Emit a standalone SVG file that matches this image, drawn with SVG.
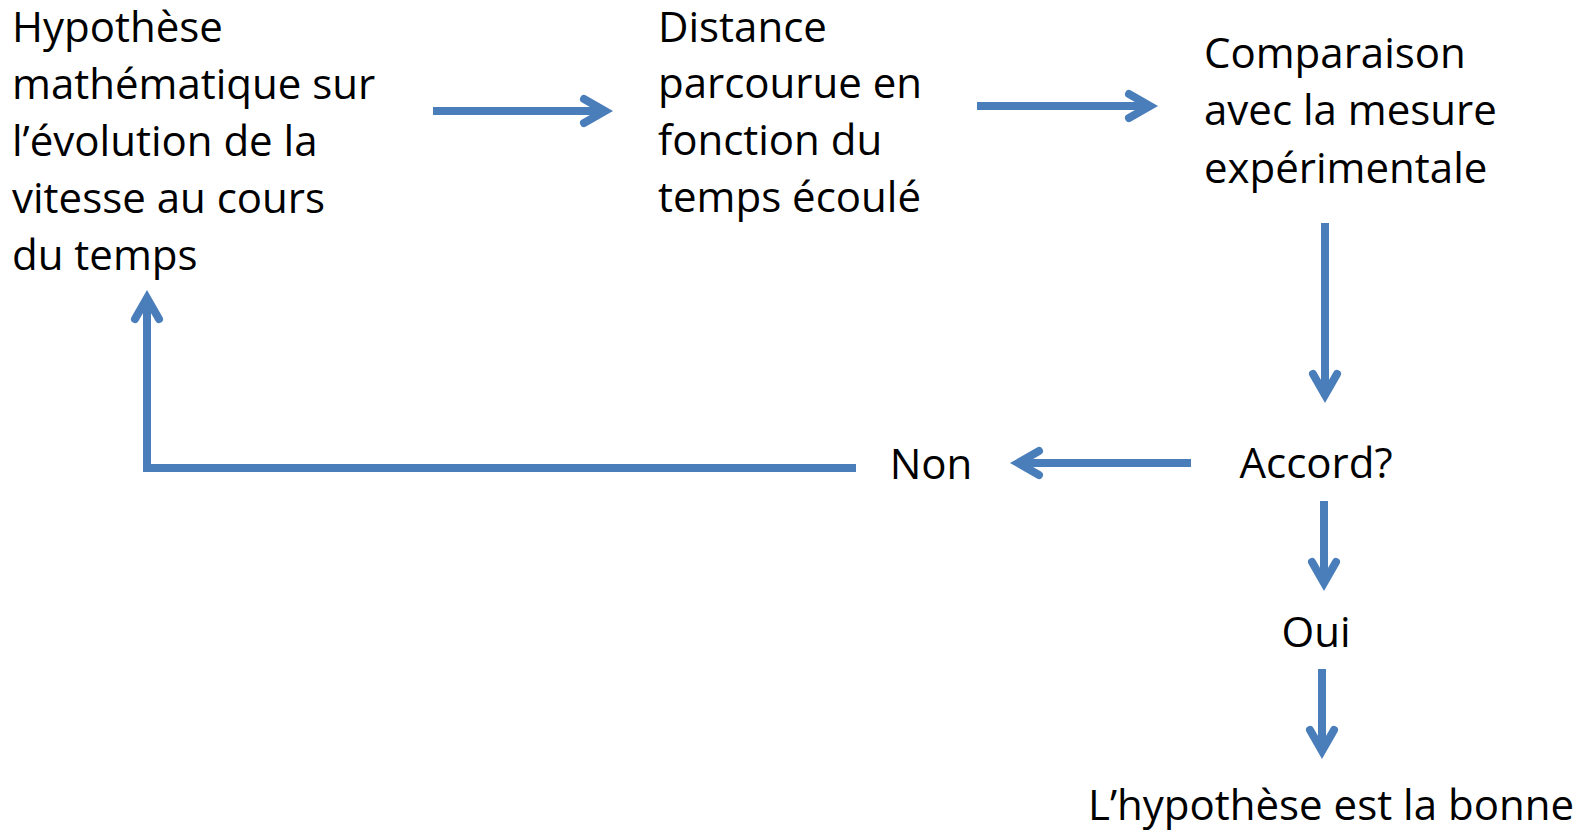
<svg xmlns="http://www.w3.org/2000/svg" width="1587" height="832" viewBox="0 0 1587 832">
  <style>
    text { font-family: "Open Sans", "Noto Sans", "Liberation Sans", sans-serif; font-size: 42px; fill: #000; }
    .c { text-anchor: middle; }
    .edge { stroke: #4A7EBB; stroke-width: 8; fill: none; stroke-linecap: butt; stroke-linejoin: miter; marker-end: url(#head); }
  </style>
  <defs>
    <marker id="head" markerUnits="userSpaceOnUse" viewBox="-30 -20 40 40" refX="0" refY="0" markerWidth="40" markerHeight="40" orient="auto" overflow="visible">
      <path d="M -21,-12 L 0,0 L -21,12" fill="none" stroke="#4A7EBB" stroke-width="8" stroke-linecap="round" stroke-linejoin="miter"/>
    </marker>
  </defs>
  <rect width="1587" height="832" fill="#fff"/>

  <g id="n-hypothese">
    <text x="12" y="42">Hypothèse</text>
    <text x="12" y="99">mathématique sur</text>
    <text x="12" y="156">l’évolution de la</text>
    <text x="12" y="213">vitesse au cours</text>
    <text x="12" y="270">du temps</text>
  </g>
  <g id="n-distance">
    <text x="658" y="42">Distance</text>
    <text x="658" y="98">parcourue en</text>
    <text x="658" y="155">fonction du</text>
    <text x="658" y="212">temps écoulé</text>
  </g>
  <g id="n-comparaison">
    <text x="1204" y="68">Comparaison</text>
    <text x="1204" y="125">avec la mesure</text>
    <text x="1204" y="183">expérimentale</text>
  </g>
  <g id="n-accord"><text class="c" x="1316" y="478">Accord?</text></g>
  <g id="n-non"><text class="c" x="931" y="479">Non</text></g>
  <g id="n-oui"><text class="c" x="1316" y="647">Oui</text></g>
  <g id="n-bonne"><text class="c" x="1331" y="820">L’hypothèse est la bonne</text></g>

  <g id="connectors">
    <path class="edge" d="M 433,111 L 605,111"/>
    <path class="edge" d="M 977,106 L 1150,106"/>
    <path class="edge" d="M 1325,223 L 1325,395"/>
    <path class="edge" d="M 1191,463 L 1018,463"/>
    <path class="edge" d="M 1324,501 L 1324,583"/>
    <path class="edge" d="M 1322,669 L 1322,751"/>
    <path class="edge" d="M 856,468 L 147,468 L 147,298"/>
  </g>
</svg>
